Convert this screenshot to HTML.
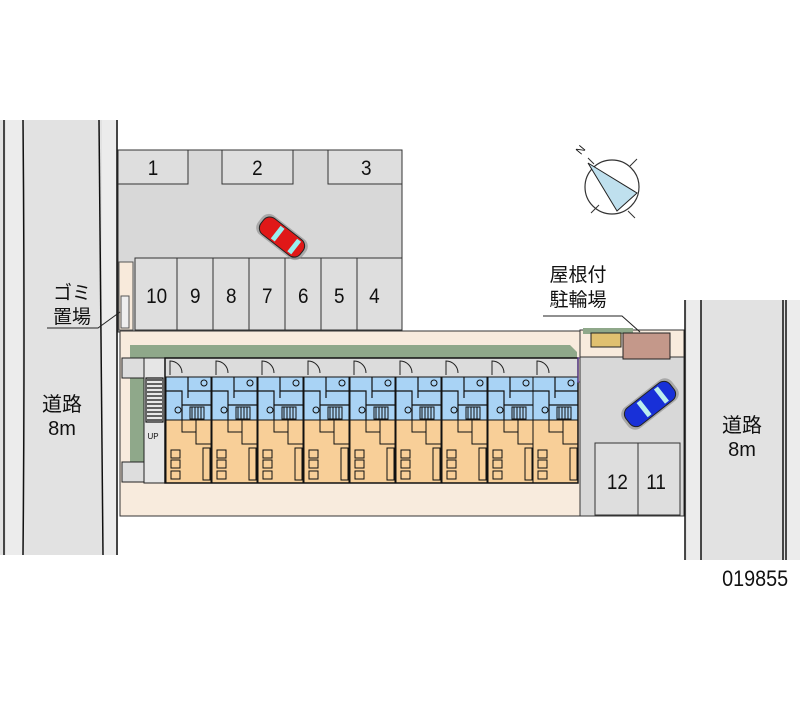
<!DOCTYPE html>
<html><head><meta charset="utf-8"><style>
html,body{margin:0;padding:0;background:#fff;}
svg{display:block;}
text{font-family:"Liberation Sans","Noto Sans CJK JP",sans-serif;fill:#111;}
</style></head><body>
<svg width="800" height="727" viewBox="0 0 800 727" xmlns="http://www.w3.org/2000/svg">
<defs>
<g id="unit">
  <rect x="0" y="0" width="45" height="19" fill="#dcdcdc"/>
  <path d="M4 17 V3 A12 12 0 0 1 16 15" fill="none" stroke="#222" stroke-width="1"/>
  <rect x="0" y="19" width="45" height="43" fill="#a9d3f5" stroke="#111" stroke-width="1"/>
  <path d="M0 33 H16 V62 M22 19 V40 M22 33 H45 M16 47 H45" fill="none" stroke="#111" stroke-width="1.2"/>
  <rect x="24" y="49" width="14" height="12" fill="none" stroke="#111" stroke-width="1"/>
  <path d="M26 49 V61 M29 49 V61 M32 49 V61 M35 49 V61" stroke="#111" stroke-width="1"/>
  <circle cx="38" cy="25" r="3" fill="none" stroke="#111"/>
  <circle cx="12" cy="52" r="3" fill="none" stroke="#111"/>
  <path d="M0 62 H45 V125 H0 Z" fill="#f8cf98" stroke="#111" stroke-width="1"/>
  <rect x="16" y="62" width="14" height="12" fill="#f8cf98" stroke="#111" stroke-width="1"/>
  <path d="M30 74 V86 H45" fill="none" stroke="#111" stroke-width="1"/>
  <rect x="5" y="92" width="9" height="8" fill="none" stroke="#111"/>
  <rect x="5" y="102" width="9" height="8" fill="none" stroke="#111"/>
  <rect x="5" y="113" width="9" height="8" fill="none" stroke="#111"/>
  <rect x="37" y="90" width="7" height="32" fill="none" stroke="#111"/>
</g>
</defs>

<rect x="0" y="120" width="118" height="435" fill="#e2e2e2"/>
<rect x="6" y="120" width="16" height="435" fill="#ececec"/>
<rect x="102" y="120" width="14" height="435" fill="#ececec"/>
<path d="M4 120 V555" stroke="#111" stroke-width="1.5"/>
<path d="M23 120 Q25 340 23 555" stroke="#111" stroke-width="1.5" fill="none"/>
<path d="M99 120 Q101 340 103 555" stroke="#111" stroke-width="1.5" fill="none"/>
<path d="M117 120 V555" stroke="#111" stroke-width="1.5"/>

<rect x="118" y="150" width="284" height="182" fill="#d8d8d8" stroke="#333" stroke-width="1"/>
<rect x="118" y="150" width="70" height="34" fill="#dedede" stroke="#333"/>
<rect x="222" y="150" width="71" height="34" fill="#dedede" stroke="#333"/>
<rect x="328" y="150" width="74" height="34" fill="#dedede" stroke="#333"/>
<g font-size="21" text-anchor="middle" transform="scale(0.9,1)">
<text x="170" y="175">1</text>
<text x="286" y="175">2</text>
<text x="407" y="175">3</text>
</g>
<g fill="#dedede" stroke="#333">
<rect x="135" y="258" width="42" height="72"/>
<rect x="177" y="258" width="36" height="72"/>
<rect x="213" y="258" width="36" height="72"/>
<rect x="249" y="258" width="36" height="72"/>
<rect x="285" y="258" width="36" height="72"/>
<rect x="321" y="258" width="36" height="72"/>
<rect x="357" y="258" width="45" height="72"/>
</g>
<g font-size="21" text-anchor="middle" transform="scale(0.9,1)">
<text x="174" y="303">10</text><text x="217" y="303">9</text><text x="257" y="303">8</text>
<text x="297" y="303">7</text><text x="337" y="303">6</text><text x="377" y="303">5</text><text x="416" y="303">4</text>
</g>
<rect x="119" y="262" width="14" height="68" fill="#f8eadb" stroke="#555"/>
<rect x="121" y="296" width="8" height="32" fill="#eee" stroke="#555"/>
<g transform="translate(282,237) rotate(38)">
<rect x="-28" y="-12" width="56" height="24" rx="9" fill="#888" opacity="0.6"/>
<rect x="-25" y="-10" width="50" height="20" rx="8" fill="#e01818" stroke="#222"/>
<rect x="-8" y="-8" width="5" height="16" fill="#9ee" /><rect x="13" y="-8" width="5" height="16" fill="#9ee"/>
</g>
<text x="72" y="299" font-size="19" text-anchor="middle">ゴミ</text>
<text x="72" y="323" font-size="19" text-anchor="middle">置場</text>
<path d="M47 328 H98 L120 312" stroke="#222" fill="none"/>

<rect x="120" y="331" width="460" height="185" fill="#f8ebdd" stroke="#333"/>
<path d="M130 345 H570 L577 352 V358 H130 Z" fill="#8fa88a"/>
<rect x="130" y="358" width="14" height="122" fill="#8fa88a"/>
<rect x="122" y="358" width="22" height="20" fill="#ddd" stroke="#222"/>
<rect x="122" y="462" width="22" height="20" fill="#ddd" stroke="#222"/>
<rect x="144" y="358" width="21" height="125" fill="#e6e6e6" stroke="#222"/>
<g stroke="#111" stroke-width="1.2">
<path d="M147 380 H162 M147 384 H162 M147 388 H162 M147 392 H162 M147 396 H162 M147 400 H162 M147 404 H162 M147 408 H162 M147 412 H162 M147 416 H162 M147 420 H162"/>
<rect x="146" y="378" width="17" height="44" fill="none"/>
</g>
<text x="153" y="439" font-size="8" text-anchor="middle">UP</text>
<rect x="165" y="358" width="413" height="19" fill="#dcdcdc" stroke="#222"/>
<g transform="translate(166,358)"><use href="#unit"/></g>
<g transform="translate(212,358)"><use href="#unit"/></g>
<g transform="translate(258,358)"><use href="#unit"/></g>
<g transform="translate(304,358)"><use href="#unit"/></g>
<g transform="translate(350,358)"><use href="#unit"/></g>
<g transform="translate(396,358)"><use href="#unit"/></g>
<g transform="translate(442,358)"><use href="#unit"/></g>
<g transform="translate(488,358)"><use href="#unit"/></g>
<g transform="translate(533,358)"><use href="#unit"/></g>
<rect x="165" y="358" width="413" height="125" fill="none" stroke="#111" stroke-width="1.5"/>
<rect x="578" y="358" width="16" height="24" fill="none" stroke="#6a3fb0"/>

<rect x="580" y="355" width="104" height="161" fill="#d8d8d8" stroke="#333"/>
<rect x="595" y="443" width="43" height="72" fill="#dedede" stroke="#333"/>
<rect x="638" y="443" width="42" height="72" fill="#dedede" stroke="#333"/>
<g font-size="21" text-anchor="middle" transform="scale(0.9,1)">
<text x="686" y="489">12</text>
<text x="729" y="489">11</text>
</g>
<rect x="580" y="330" width="104" height="27" fill="#f8ebdd" stroke="#333"/>
<rect x="583" y="328" width="50" height="6" fill="#8fa88a"/>
<rect x="591" y="333" width="30" height="14" fill="#e0c070" stroke="#222"/>
<rect x="623" y="333" width="47" height="26" fill="#c4988a" stroke="#222"/>
<g transform="translate(650,404) rotate(-38)">
<rect x="-31" y="-13" width="62" height="26" rx="9" fill="#888" opacity="0.6"/>
<rect x="-28" y="-11" width="56" height="22" rx="8" fill="#1830d8" stroke="#222"/>
<rect x="-10" y="-9" width="5" height="18" fill="#bee"/><rect x="12" y="-9" width="5" height="18" fill="#bee"/>
</g>
<text x="578" y="281" font-size="19" text-anchor="middle">屋根付</text>
<text x="578" y="306" font-size="19" text-anchor="middle">駐輪場</text>
<path d="M543 316 H622 L640 332" stroke="#222" fill="none"/>

<rect x="685" y="300" width="115" height="260" fill="#e2e2e2"/>
<rect x="687" y="300" width="14" height="260" fill="#ececec"/>
<rect x="785" y="300" width="15" height="260" fill="#ececec"/>
<path d="M685 300 V560 M701 300 V560 M783 300 V560 M786 300 V560" stroke="#111" stroke-width="1.5"/>
<text x="742" y="432" font-size="20" text-anchor="middle">道路</text>
<text x="742" y="456" font-size="20" text-anchor="middle">8m</text>
<text x="62" y="411" font-size="20" text-anchor="middle">道路</text>
<text x="62" y="435" font-size="20" text-anchor="middle">8m</text>

<circle cx="612" cy="187" r="27" fill="none" stroke="#333" stroke-width="1.2"/>
<path d="M591 213 l8 -8 M630 166 l7 -7 M628 211 l7 7 M594 164 l-6 -6" stroke="#333" stroke-width="1"/>
<path d="M588 163 L637 193 L617 211 Z" fill="#bfe0ee" stroke="#222"/>
<text x="577" y="157" font-size="11" transform="rotate(-50 577 152)">N</text>

<text x="755" y="586" font-size="22" text-anchor="middle" transform="scale(0.9,1) translate(84,0)">019855</text>
</svg>
</body></html>
